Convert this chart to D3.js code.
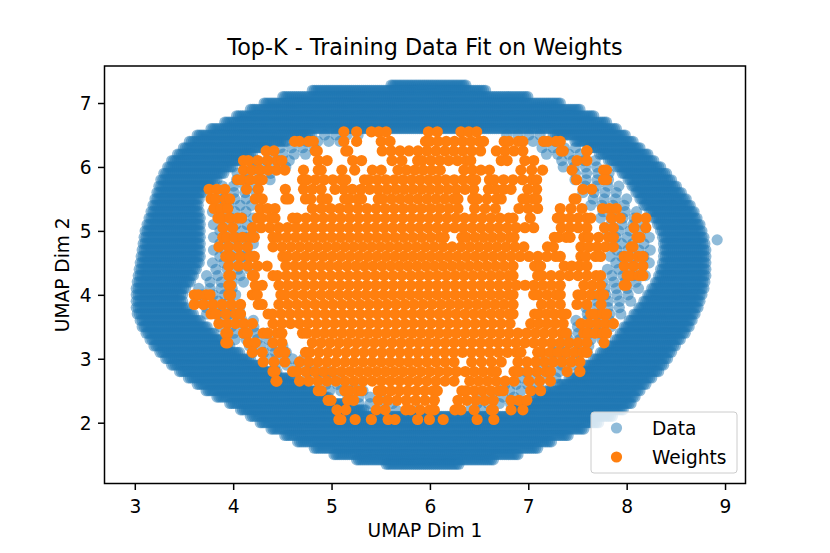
<!DOCTYPE html>
<html>
<head>
<meta charset="utf-8">
<style>
  body { margin: 0; background: #fff; }
  svg { display: block; font-family: "DejaVu Sans", sans-serif; }
</style>
</head>
<body>
<svg width="830" height="553"></svg>
<script src="https://d3js.org/d3.v7.min.js"></script>
<script>

var chartTitle = "Top-K - Training Data Fit on Weights";
var xLabel = "UMAP Dim 1";
var yLabel = "UMAP Dim 2";
var xTicks = [3, 4, 5, 6, 7, 8, 9];
var yTicks = [2, 3, 4, 5, 6, 7];
var seriesNames = ["Data", "Weights"];

// "Data" ring, one row per y:
// [y, outer left, inner left, inner right, outer right]  (null = no hole in that row)
var dataRows = [
  [7.28, 5.55, null, null, 6.42],
  [7.20, 4.75, null, null, 6.62],
  [7.10, 4.45, null, null, 7.05],
  [7.00, 4.26, null, null, 7.38],
  [6.90, 4.12, null, null, 7.58],
  [6.80, 3.98, null, null, 7.72],
  [6.70, 3.86, null, null, 7.85],
  [6.60, 3.72, null, null, 7.95],
  [6.50, 3.58, 4.85, 7.20, 8.04],
  [6.40, 3.50, 4.60, 7.42, 8.12],
  [6.30, 3.44, 4.40, 7.56, 8.19],
  [6.20, 3.38, 4.25, 7.67, 8.27],
  [6.10, 3.32, 4.15, 7.76, 8.33],
  [6.00, 3.28, 4.05, 7.84, 8.40],
  [5.90, 3.24, 3.96, 7.90, 8.46],
  [5.80, 3.21, 3.89, 7.96, 8.51],
  [5.70, 3.19, 3.81, 8.00, 8.56],
  [5.60, 3.17, 3.75, 8.04, 8.61],
  [5.50, 3.15, 3.71, 8.08, 8.66],
  [5.40, 3.13, 3.70, 8.12, 8.70],
  [5.30, 3.11, 3.71, 8.18, 8.74],
  [5.20, 3.09, 3.72, 8.22, 8.77],
  [5.10, 3.07, 3.72, 8.26, 8.80],
  [5.00, 3.05, 3.72, 8.29, 8.82],
  [4.90, 3.04, 3.72, 8.31, 8.84],
  [4.80, 3.03, 3.72, 8.32, 8.85],
  [4.70, 3.02, 3.72, 8.32, 8.86],
  [4.60, 3.01, 3.72, 8.32, 8.86],
  [4.50, 3.00, 3.71, 8.31, 8.86],
  [4.40, 2.99, 3.68, 8.29, 8.86],
  [4.30, 2.98, 3.65, 8.27, 8.86],
  [4.20, 2.97, 3.62, 8.24, 8.85],
  [4.10, 2.96, 3.57, 8.20, 8.84],
  [4.00, 2.96, 3.54, 8.16, 8.82],
  [3.90, 2.96, 3.54, 8.12, 8.80],
  [3.80, 2.96, 3.58, 8.07, 8.78],
  [3.70, 2.97, 3.65, 8.02, 8.75],
  [3.60, 3.00, 3.72, 7.97, 8.72],
  [3.50, 3.02, 3.79, 7.92, 8.69],
  [3.40, 3.06, 3.86, 7.88, 8.65],
  [3.30, 3.10, 3.94, 7.83, 8.60],
  [3.20, 3.14, 4.02, 7.76, 8.55],
  [3.10, 3.20, 4.12, 7.68, 8.51],
  [3.00, 3.26, 4.23, 7.61, 8.47],
  [2.90, 3.32, 4.35, 7.53, 8.43],
  [2.80, 3.40, 4.50, 7.46, 8.38],
  [2.70, 3.49, 4.67, 7.36, 8.31],
  [2.60, 3.58, 4.80, 7.25, 8.25],
  [2.50, 3.67, 4.90, 7.12, 8.19],
  [2.40, 3.78, 5.02, 7.00, 8.14],
  [2.30, 3.91, 5.20, 6.90, 8.10],
  [2.20, 4.02, 5.40, 6.78, 8.02],
  [2.10, 4.12, null, null, 7.91],
  [2.00, 4.22, null, null, 7.77],
  [1.90, 4.33, null, null, 7.62],
  [1.80, 4.47, null, null, 7.46],
  [1.70, 4.60, null, null, 7.29],
  [1.60, 4.77, null, null, 7.15],
  [1.50, 4.97, null, null, 6.95],
  [1.42, 5.20, null, null, 6.70],
  [1.35, 5.50, null, null, 6.35]
];
var dataStray = [[8.92, 4.86]];

// "Weights", one row per y: [y, [x from, x to, x from, x to, ...]]
var weightRows = [
  [6.55, [5.07,5.31, 5.35,5.61, 5.93,6.13, 6.26,6.53]],
  [6.40, [4.57,4.87, 5.07,5.31, 5.45,5.65, 5.90,6.60, 6.70,7.00, 7.10,7.38]],
  [6.25, [4.28,4.47, 4.78,4.91, 5.09,5.22, 5.46,6.57, 6.62,7.00, 7.28,7.41, 7.54,7.65]],
  [6.10, [4.05,4.55, 4.81,5.01, 5.16,5.36, 5.56,5.77, 5.82,6.47, 6.67,6.84, 6.91,7.11, 7.44,7.65]],
  [5.95, [4.05,4.58, 4.68,4.75, 4.81,4.95, 5.05,5.29, 5.36,5.56, 5.62,6.16, 6.29,6.66, 6.87,7.20, 7.41,7.48, 7.71,7.85]],
  [5.80, [3.99,4.35, 4.65,5.20, 5.28,6.52, 6.55,7.14, 7.44,7.54, 7.71,7.85]],
  [5.65, [3.70,3.97, 4.08,4.31, 4.48,4.58, 4.66,4.95, 4.98,6.50, 6.54,6.88, 6.94,7.14, 7.50,7.70]],
  [5.50, [3.72,4.02, 4.17,4.35, 4.48,4.62, 4.68,5.01, 5.08,5.36, 5.42,6.34, 6.38,6.78, 6.89,7.14, 7.41,7.54]],
  [5.35, [3.75,4.00, 4.22,4.48, 4.75,6.34, 6.40,6.72, 6.85,7.15, 7.27,7.60, 7.70,7.95]],
  [5.20, [3.79,4.14, 4.19,4.48, 4.55,6.90, 6.97,7.07, 7.24,7.69, 7.79,7.99, 8.05,8.25]],
  [5.05, [3.84,4.05, 4.14,7.11, 7.28,7.65, 7.72,7.92, 8.02,8.25]],
  [4.90, [3.84,4.27, 4.35,6.20, 6.27,6.91, 7.21,7.48, 7.51,7.92, 8.05,8.19]],
  [4.75, [3.80,4.20, 4.35,7.01, 7.14,7.31, 7.48,7.92, 7.99,8.12]],
  [4.60, [3.87,4.27, 4.45,7.38, 7.48,7.79, 7.92,8.22]],
  [4.45, [3.90,4.40, 4.48,6.90, 7.01,7.18, 7.31,7.65, 7.92,8.22]],
  [4.30, [3.90,4.03, 4.14,4.27, 4.35,6.90, 7.04,7.79, 7.95,8.22]],
  [4.15, [3.90,4.03, 4.17,4.35, 4.41,7.38, 7.51,7.79, 7.92,8.05]],
  [4.00, [3.55,3.82, 3.90,4.03, 4.14,4.30, 4.43,6.90, 7.00,7.38, 7.45,7.82]],
  [3.85, [3.55,4.13, 4.20,4.35, 4.41,6.90, 7.08,7.38, 7.44,7.65, 7.69,7.79]],
  [3.70, [3.72,4.13, 4.30,6.90, 7.01,7.44, 7.58,7.85]],
  [3.55, [3.80,4.25, 4.35,6.87, 6.97,7.41, 7.48,7.92]],
  [3.40, [3.87,4.00, 4.05,4.20, 4.25,4.55, 4.65,7.44, 7.51,7.85]],
  [3.25, [3.87,4.00, 4.10,4.28, 4.35,4.55, 4.75,7.65, 7.72,7.82]],
  [3.10, [4.14,4.35, 4.41,4.58, 4.68,6.98, 7.04,7.65]],
  [2.95, [4.25,4.58, 4.62,6.30, 6.37,6.78, 6.84,7.58]],
  [2.80, [4.35,4.48, 4.55,6.73, 6.80,7.28, 7.34,7.58]],
  [2.65, [4.38,4.50, 4.62,6.30, 6.35,6.91, 6.95,7.28]],
  [2.50, [4.81,4.95, 5.08,5.36, 5.42,6.13, 6.27,6.80, 6.97,7.18]],
  [2.35, [4.91,5.05, 5.11,5.28, 5.42,6.10, 6.23,6.70, 6.77,7.04]],
  [2.20, [5.00,5.20, 5.40,5.60, 5.70,6.10, 6.20,6.37, 6.40,6.50, 6.57,6.70, 6.77,7.00]],
  [2.05, [5.02,5.15, 5.20,5.28, 5.36,5.45, 5.52,5.70, 5.82,6.05, 6.10,6.17, 6.43,6.53, 6.60,6.70]]
];

var svg = d3.select("svg"),
    width = +svg.attr("width"),
    height = +svg.attr("height");

var axLeft = 104.5, axRight = 745.5, axTop = 66, axBottom = 483.5;
var fs = 18.6, r = 5.6;
var blue = "#1f77b4", orange = "#ff7f0e";

var x = d3.scaleLinear().domain([2.692, 9.208]).range([axLeft, axRight]);
var y = d3.scaleLinear().domain([1.049, 7.579]).range([axBottom, axTop]);

// centres spread evenly between a and b; odd rows sit half a step over
function spread(a, b, step, odd) {
  if (b <= a) return [(a + b) / 2];
  var n = Math.max(1, Math.round((b - a) / step));
  var h = (b - a) / n;
  if (!odd || n < 2) return d3.range(n + 1).map(function(i) { return a + i * h; });
  return [a].concat(d3.range(n).map(function(i) { return a + (i + 0.5) * h; }), [b]);
}

var inset = 0.055;
var dataPts = [];
dataRows.forEach(function(row, k) {
  var yy = row[0];
  var segs = row[2] == null ? [[row[1], row[4]]] : [[row[1], row[2]], [row[3], row[4]]];
  segs.forEach(function(s) {
    spread(s[0] + inset, s[1] - inset, 0.02).forEach(function(v) { dataPts.push([v, yy]); });
  });
  // loose points just inside the hole
  if (row[2] != null && row[3] - row[2] > 1) {
    var off = (k % 2) * 0.065;
    spread(row[2] + 0.08 + off, row[2] + 0.42 + off, 0.13).forEach(function(v) { dataPts.push([v, yy]); });
    spread(row[3] - 0.42 - off, row[3] - 0.08 - off, 0.13).forEach(function(v) { dataPts.push([v, yy]); });
  }
});
dataStray.forEach(function(p) { dataPts.push(p); });

var weightPts = [];
weightRows.forEach(function(row, k) {
  var segs = row[1];
  for (var i = 0; i < segs.length; i += 2) {
    spread(segs[i] + inset, segs[i + 1] - inset, 0.09, k % 2 === 1)
      .forEach(function(v) { weightPts.push([v, row[0]]); });
  }
});

svg.append("defs").append("clipPath").attr("id", "clip")
  .append("rect").attr("x", axLeft).attr("y", axTop)
  .attr("width", axRight - axLeft).attr("height", axBottom - axTop);

var plot = svg.append("g").attr("clip-path", "url(#clip)");

plot.append("g")
  .selectAll("circle")
  .data(dataPts)
  .enter().append("circle")
    .attr("cx", function(d) { return x(d[0]); })
    .attr("cy", function(d) { return y(d[1]); })
    .attr("r", r)
    .attr("fill", blue)
    .attr("fill-opacity", 0.5);

plot.append("g")
  .selectAll("circle")
  .data(weightPts)
  .enter().append("circle")
    .attr("cx", function(d) { return x(d[0]); })
    .attr("cy", function(d) { return y(d[1]); })
    .attr("r", r)
    .attr("fill", orange);

// axes
var xAxis = svg.append("g")
    .attr("transform", "translate(0," + axBottom + ")")
    .call(d3.axisBottom(x).tickValues(xTicks).tickSize(6.5).tickPadding(6.5).tickSizeOuter(0)
      .tickFormat(d3.format("d")));
var yAxis = svg.append("g")
    .attr("transform", "translate(" + axLeft + ",0)")
    .call(d3.axisLeft(y).tickValues(yTicks).tickSize(6.5).tickPadding(6.5).tickSizeOuter(0)
      .tickFormat(d3.format("d")));

[xAxis, yAxis].forEach(function(g) {
  g.select(".domain").remove();
  g.selectAll(".tick line").attr("stroke", "#000").attr("stroke-width", 1.5);
  g.selectAll(".tick text")
    .attr("fill", "#000")
    .style("font-family", "DejaVu Sans")
    .style("font-size", fs + "px");
});
xAxis.selectAll(".tick text").attr("dy", "0.89em");
yAxis.selectAll(".tick text").attr("dy", "0.36em");

svg.append("rect")
    .attr("x", axLeft).attr("y", axTop)
    .attr("width", axRight - axLeft).attr("height", axBottom - axTop)
    .attr("fill", "none")
    .attr("stroke", "#000")
    .attr("stroke-width", 1.5);

svg.append("text")
    .attr("x", (axLeft + axRight) / 2)
    .attr("y", 55)
    .attr("text-anchor", "middle")
    .style("font-size", "22.3px")
    .text(chartTitle);

svg.append("text")
    .attr("x", (axLeft + axRight) / 2)
    .attr("y", 537)
    .attr("text-anchor", "middle")
    .style("font-size", fs + "px")
    .text(xLabel);

svg.append("text")
    .attr("transform", "translate(69," + (axTop + axBottom) / 2 + ") rotate(-90)")
    .attr("text-anchor", "middle")
    .style("font-size", fs + "px")
    .text(yLabel);

// legend
var legend = svg.append("g").attr("transform", "translate(591,412)");
legend.append("rect")
    .attr("width", 146).attr("height", 61)
    .attr("rx", 3)
    .attr("fill", "#fff").attr("fill-opacity", 0.8)
    .attr("stroke", "#cccccc").attr("stroke-width", 1);

var items = legend.selectAll(".item")
  .data(seriesNames)
  .enter().append("g")
    .attr("transform", function(d, i) { return "translate(0," + (16 + i * 29) + ")"; });
items.append("circle")
    .attr("cx", 25.5)
    .attr("r", r)
    .attr("fill", function(d, i) { return i === 0 ? blue : orange; })
    .attr("fill-opacity", function(d, i) { return i === 0 ? 0.5 : 1; });
items.append("text")
    .attr("x", 61)
    .attr("y", 6.6)
    .style("font-size", fs + "px")
    .text(function(d) { return d; });

</script>
</body>
</html>
